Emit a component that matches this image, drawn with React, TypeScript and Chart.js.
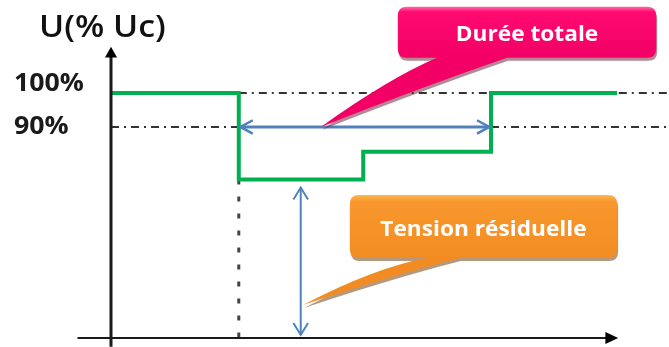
import React, { useEffect, useRef } from 'react';
import { Chart, registerables } from 'chart.js';

Chart.register(...registerables);

// ---- data ----
const TIME_POINTS = [0, 22.9, 22.9, 45.2, 45.2, 68.1, 68.1, 90.7];
const VOLTAGE = [100, 100, 74.6, 74.6, 82.7, 82.7, 100, 100];
const TICK_VALUES = [100, 90];
const TICK_LABELS = ['100%', '90%'];
const AXIS_TITLE = 'U(% Uc)';
const DIP_START = 22.9;
const DIP_LEVEL = 74.6;
const DURATION_SPAN = [23.2, 67.8];
const RESIDUAL_X = 34.0;
const RESIDUAL_SPAN = [72.2, 28.9];
const CALLOUT_TEXTS = ['Durée totale', 'Tension résiduelle'];

// ---- layout (value space) ----
const X_MIN = 0, X_MAX = 100, Y_MIN = 28, Y_MAX = 113.2;
const LABEL_OFFSETS = [2.6, -0.1];
const CALLOUTS = [
  { x1: 51.4, x2: 97.7, y1: 125.3, y2: 110.3, t1: 58.4, t2: 71.0, tipX: 37.6, tipY: 90,
    top: '#ff6aa8', mid: '#ff0a70', bot: '#f20066', shadow: 'rgba(120,40,60,0.55)' },
  { x1: 42.8, x2: 90.7, y1: 70.0, y2: 51.5, t1: 56.6, t2: 62.5, tipX: 34.4, tipY: 37.7,
    top: '#fbb850', mid: '#f8982e', bot: '#f28c22', shadow: 'rgba(120,70,20,0.55)' },
];

const FONT = '"Open Sans", "DejaVu Sans", sans-serif';

function stretchedText(ctx: CanvasRenderingContext2D, text: string, x: number, y: number, font: string, color: string, align: CanvasTextAlign, baseline: CanvasTextBaseline, sx: number) {
  ctx.save();
  ctx.translate(x, y);
  ctx.scale(sx, 1);
  ctx.font = font;
  ctx.fillStyle = color;
  ctx.textAlign = align;
  ctx.textBaseline = baseline;
  ctx.fillText(text, 0, 0);
  ctx.restore();
}

function calloutPath(ctx: CanvasRenderingContext2D, l: number, t: number, r: number, b: number, tb1: number, tb2: number, tx: number, ty: number, rad: number) {
  ctx.beginPath();
  ctx.moveTo(l + rad, t);
  ctx.lineTo(r - rad, t);
  ctx.quadraticCurveTo(r, t, r, t + rad);
  ctx.lineTo(r, b - rad);
  ctx.quadraticCurveTo(r, b, r - rad, b);
  ctx.lineTo(tb2, b);
  ctx.quadraticCurveTo((tb2 + tx) / 2 + 10, (b + ty) / 2 - 6, tx, ty);
  ctx.quadraticCurveTo((tb1 + tx) / 2 + 10, (b + ty) / 2 - 14, tb1, b);
  ctx.lineTo(l + rad, b);
  ctx.quadraticCurveTo(l, b, l, b - rad);
  ctx.lineTo(l, t + rad);
  ctx.quadraticCurveTo(l, t, l + rad, t);
  ctx.closePath();
}

function openArrow(ctx: CanvasRenderingContext2D, tipX: number, tipY: number, angle: number, len: number, spread: number) {
  ctx.beginPath();
  ctx.moveTo(tipX - len * Math.cos(angle - spread), tipY - len * Math.sin(angle - spread));
  ctx.lineTo(tipX, tipY);
  ctx.lineTo(tipX - len * Math.cos(angle + spread), tipY - len * Math.sin(angle + spread));
  ctx.stroke();
}

const overlayPlugin = {
  id: 'overlay',
  afterDatasetsDraw(chart: any) {
    const ctx: CanvasRenderingContext2D = chart.ctx;
    const xs = chart.scales.x;
    const ys = chart.scales.y;
    const px = (v: number) => xs.getPixelForValue(v);
    const py = (v: number) => ys.getPixelForValue(v);
    ctx.save();

    // axes
    ctx.strokeStyle = '#1a1a1a';
    ctx.fillStyle = '#000';
    const ax = px(0);
    ctx.lineWidth = 3;
    ctx.beginPath();
    ctx.moveTo(ax, py(25.4));
    ctx.lineTo(ax, py(111));
    ctx.stroke();
    ctx.beginPath();
    ctx.moveTo(ax, py(113.6));
    ctx.lineTo(ax - 6, py(110.4));
    ctx.lineTo(ax + 6, py(110.4));
    ctx.closePath();
    ctx.fill();
    const ay = py(Y_MIN);
    ctx.lineWidth = 2;
    ctx.beginPath();
    ctx.moveTo(px(-6), ay);
    ctx.lineTo(px(89), ay);
    ctx.stroke();
    ctx.beginPath();
    ctx.moveTo(px(90.9), ay);
    ctx.lineTo(px(88.6), ay - 6);
    ctx.lineTo(px(88.6), ay + 6);
    ctx.closePath();
    ctx.fill();

    // blue arrowheads
    ctx.strokeStyle = '#4f81bd';
    ctx.lineWidth = 2.5;
    openArrow(ctx, px(DURATION_SPAN[0]), py(90), Math.PI, 14, 0.5);
    openArrow(ctx, px(DURATION_SPAN[1]), py(90), 0, 14, 0.5);
    ctx.lineWidth = 2;
    openArrow(ctx, px(RESIDUAL_X), py(RESIDUAL_SPAN[0]), -Math.PI / 2, 14, 0.55);
    openArrow(ctx, px(RESIDUAL_X), py(RESIDUAL_SPAN[1]), Math.PI / 2, 14, 0.55);

    // tick labels
    TICK_VALUES.forEach((v, i) => {
      stretchedText(ctx, TICK_LABELS[i], px(-17.4), py(v + LABEL_OFFSETS[i]), `bold 25px ${FONT}`, '#1a1a1a', 'left', 'middle', 1.07);
    });
    // axis title
    stretchedText(ctx, AXIS_TITLE, px(-12.9), py(116.5), `600 30px ${FONT}`, '#111111', 'left', 'alphabetic', 1.13);

    // callouts
    CALLOUTS.forEach((c, i) => {
      const l = px(c.x1), r = px(c.x2), t = py(c.y1), b = py(c.y2);
      const tb1 = px(c.t1), tb2 = px(c.t2), tx = px(c.tipX), ty = py(c.tipY);
      ctx.save();
      ctx.translate(1, 3);
      calloutPath(ctx, l, t, r, b, tb1, tb2, tx, ty, 9);
      ctx.fillStyle = c.shadow;
      ctx.fill();
      ctx.restore();
      calloutPath(ctx, l, t, r, b, tb1, tb2, tx, ty, 9);
      const g = ctx.createLinearGradient(0, t, 0, b);
      g.addColorStop(0, c.top);
      g.addColorStop(0.1, c.mid);
      g.addColorStop(1, c.bot);
      ctx.fillStyle = g;
      ctx.fill();
      stretchedText(ctx, CALLOUT_TEXTS[i], (l + r) / 2, (t + b) / 2 + 3, `bold 21px ${FONT}`, '#ffffff', 'center', 'middle', 1.08);
    });

    ctx.restore();
  },
};

export default function App() {
  const ref = useRef<HTMLCanvasElement | null>(null);
  useEffect(() => {
    if (!ref.current) return;
    const dash = [8, 5, 2, 5];
    const chart = new Chart(ref.current, {
      type: 'scatter',
      data: {
        datasets: [
          {
            data: TIME_POINTS.map((x, i) => ({ x, y: VOLTAGE[i] })),
            borderColor: '#00b050', borderWidth: 4, showLine: true, pointRadius: 0, tension: 0, clip: false,
            borderJoinStyle: 'miter',
          },
          {
            data: [{ x: DURATION_SPAN[0], y: 90 }, { x: DURATION_SPAN[1], y: 90 }],
            borderColor: '#4f81bd', borderWidth: 3, showLine: true, pointRadius: 0, clip: false,
          },
          {
            data: [{ x: RESIDUAL_X, y: RESIDUAL_SPAN[0] }, { x: RESIDUAL_X, y: RESIDUAL_SPAN[1] }],
            borderColor: '#4f81bd', borderWidth: 2, showLine: true, pointRadius: 0, clip: false,
          },
          {
            data: [{ x: DIP_START, y: DIP_LEVEL }, { x: DIP_START, y: Y_MIN }],
            borderColor: '#444444', borderWidth: 3, borderDash: [5, 12], showLine: true, pointRadius: 0, clip: false,
          },
          {
            data: [{ x: DIP_START, y: 100 }, { x: X_MAX, y: 100 }],
            borderColor: '#333333', borderWidth: 2, borderDash: dash, showLine: true, pointRadius: 0, clip: false,
          },
          {
            data: [{ x: 0, y: 90 }, { x: X_MAX, y: 90 }],
            borderColor: '#333333', borderWidth: 2, borderDash: dash, showLine: true, pointRadius: 0, clip: false,
          },
        ],
      } as any,
      options: {
        responsive: false,
        animation: false,
        layout: { padding: { left: 111, right: 0, top: 48, bottom: 9 } },
        scales: {
          x: { type: 'linear', min: X_MIN, max: X_MAX, display: false },
          y: { type: 'linear', min: Y_MIN, max: Y_MAX, display: false },
        },
        plugins: { legend: { display: false }, tooltip: { enabled: false } },
        events: [],
      } as any,
      plugins: [overlayPlugin],
    });
    return () => chart.destroy();
  }, []);
  return (
    <div style={{ position: 'fixed', left: 0, top: 0, width: 669, height: 347, background: '#ffffff' }}>
      <canvas ref={ref} width={669} height={347} style={{ display: 'block', width: 669, height: 347 }} />
    </div>
  );
}
